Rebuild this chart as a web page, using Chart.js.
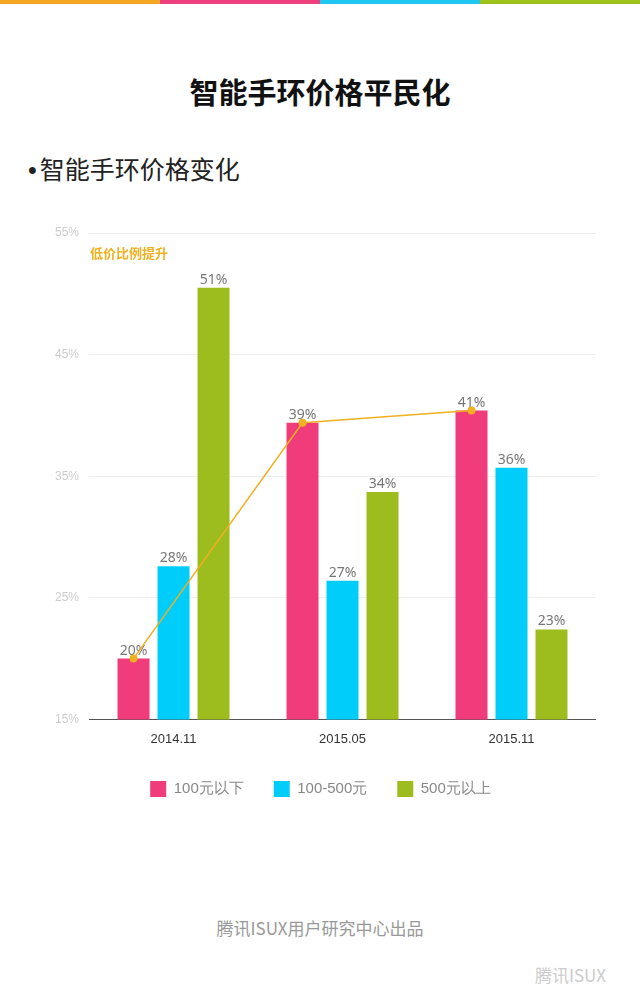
<!DOCTYPE html>
<html>
<head>
<meta charset="utf-8">
<script src="https://cdn.jsdelivr.net/npm/chart.js@4.4.0/dist/chart.umd.min.js"></script>
<style>
  body { margin:0; width:640px; height:1008px; background:#fff; font-family:"Noto Sans CJK SC","Noto Sans",sans-serif; position:relative; overflow:hidden; }
  .stripe { position:absolute; top:0; height:4px; width:160px; }
  h1 { position:absolute; top:70px; left:0; width:640px; text-align:center; margin:0; font-size:29px; font-weight:bold; color:#111; }
  .sub { position:absolute; top:150px; left:28px; font-size:25px; color:#222; }
  .sub span { font-family:"Liberation Sans",sans-serif; margin-right:3px; }
  .note { position:absolute; top:243px; left:90px; font-size:13px; font-weight:bold; color:#f0b020; }
  #wrap { position:absolute; left:40px; top:214px; width:556px; height:593px; }
  .foot { position:absolute; top:915px; left:0; width:640px; text-align:center; font-size:17px; color:#999; }
  .wm { position:absolute; top:962px; left:535px; font-size:17px; color:#ccc; }
</style>
</head>
<body>
<div class="stripe" style="left:0;background:#f5a623"></div>
<div class="stripe" style="left:160px;background:#ef3f7e"></div>
<div class="stripe" style="left:320px;background:#1ec8f0"></div>
<div class="stripe" style="left:480px;background:#9cc21b"></div>
<h1>智能手环价格平民化</h1>
<div class="sub"><span>•</span>智能手环价格变化</div>
<div id="wrap"><canvas id="grafico"></canvas></div>
<div class="note">低价比例提升</div>
<div class="foot">腾讯ISUX用户研究中心出品</div>
<div class="wm">腾讯ISUX</div>
<script>
// dados
const periodos = ["2014.11", "2015.05", "2015.11"];
const abaixo100 = [20.0, 39.4, 40.4];
const de100a500 = [27.6, 26.4, 35.7];
const acima500 = [50.5, 33.7, 22.4];
// rótulos mostrados em cima das barras
const textoAbaixo100 = ["20%", "39%", "41%"];
const textoDe100a500 = ["28%", "27%", "36%"];
const textoAcima500 = ["51%", "34%", "23%"];
const rotulos = ["100元以下", "100-500元", "500元以上"];
const cores = ["#f03c7a", "#00cdfa", "#9dbd1f"];
const ticksY = [15, 25, 35, 45, 55];
const textos = [textoAbaixo100, textoDe100a500, textoAcima500];

// valores em cima das barras + linha laranja ligando as barras rosas
const pluginExtras = {
    id: "extras",
    afterDatasetsDraw(chart) {
        const ctx = chart.ctx;
        ctx.save();
        ctx.font = "14px 'Noto Sans', sans-serif";
        ctx.fillStyle = "#777";
        ctx.textAlign = "center";
        chart.data.datasets.forEach((ds, i) => {
            chart.getDatasetMeta(i).data.forEach((bar, j) => {
                ctx.fillText(textos[i][j], bar.x, bar.y - 8);
            });
        });
        const pts = chart.getDatasetMeta(0).data;
        ctx.strokeStyle = "#f0b020";
        ctx.lineWidth = 1.5;
        ctx.beginPath();
        pts.forEach((p, j) => j ? ctx.lineTo(p.x, p.y) : ctx.moveTo(p.x, p.y));
        ctx.stroke();
        ctx.fillStyle = "#f0b020";
        pts.forEach(p => { ctx.beginPath(); ctx.arc(p.x, p.y, 4, 0, Math.PI * 2); ctx.fill(); });
        ctx.restore();
    }
};

new Chart(document.getElementById("grafico").getContext("2d"), {
    type: "bar",
    data: {
        labels: periodos,
        datasets: [abaixo100, de100a500, acima500].map((d, i) => ({
            label: rotulos[i],
            data: d,
            backgroundColor: cores[i],
            barPercentage: 0.8,
            categoryPercentage: 0.71
        }))
    },
    options: {
        animation: false,
        responsive: true,
        maintainAspectRatio: false,
        layout: { padding: { top: 19, left: 5, right: 0, bottom: 0 } },
        plugins: {
            legend: {
                position: "bottom",
                labels: { color: "#888", boxWidth: 16, boxHeight: 16, padding: 30, font: { size: 15 } }
            },
            tooltip: { enabled: false }
        },
        scales: {
            x: {
                grid: { display: false },
                border: { color: "#555" },
                ticks: { color: "#333", font: { size: 13 }, padding: 4 }
            },
            y: {
                min: 15, max: 55,
                afterBuildTicks: ax => { ax.ticks = ticksY.map(v => ({ value: v })); },
                grid: { color: "#eee", drawTicks: false },
                border: { display: false },
                ticks: { color: "#ccc", font: { size: 12 }, padding: 10, callback: v => v + "%" }
            }
        }
    },
    plugins: [pluginExtras]
});
</script>
</body>
</html>
